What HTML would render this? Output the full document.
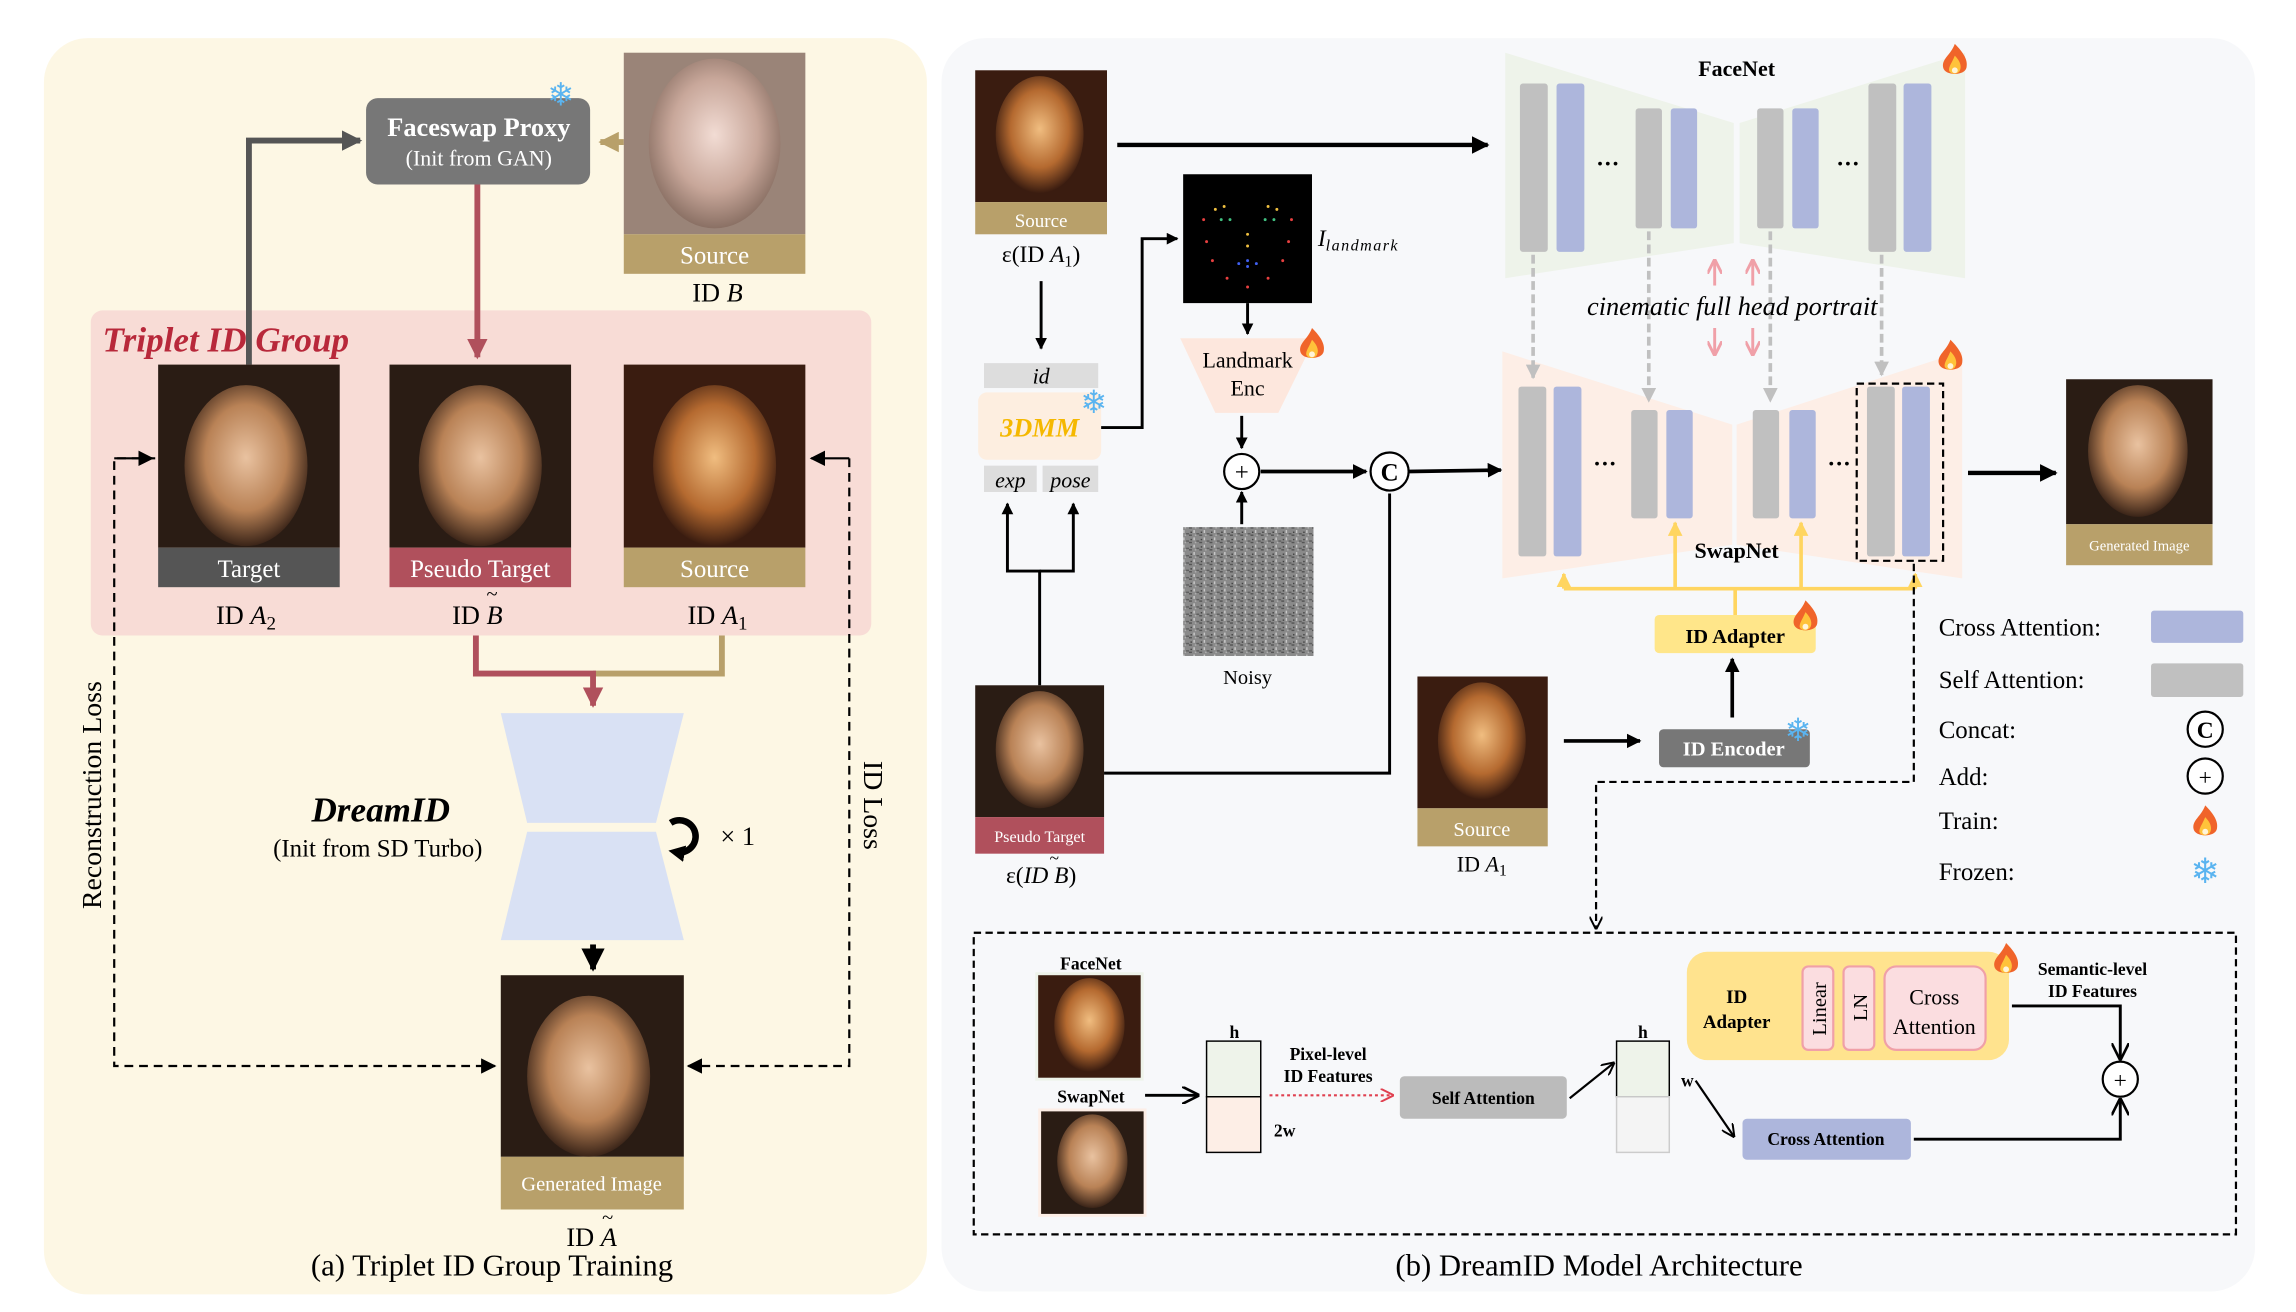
<!DOCTYPE html>
<html><head><meta charset="utf-8"><style>
html,body{margin:0;padding:0;background:#fff;}
svg{display:block;}
text{font-family:"Liberation Serif",serif;}
</style></head><body>
<svg width="2296" height="1312" viewBox="0 0 1568 896" preserveAspectRatio="none" xmlns="http://www.w3.org/2000/svg">
<defs>
<radialGradient id="skin" cx="50%" cy="45%" r="55%"><stop offset="0" stop-color="#e9c2a0"/><stop offset="0.6" stop-color="#b98256"/><stop offset="1" stop-color="#3a2418"/></radialGradient>
<radialGradient id="skin2" cx="50%" cy="45%" r="55%"><stop offset="0" stop-color="#f0bd80"/><stop offset="0.6" stop-color="#b56a30"/><stop offset="1" stop-color="#3a1c10"/></radialGradient>
<radialGradient id="skin3" cx="50%" cy="45%" r="55%"><stop offset="0" stop-color="#f2dcd4"/><stop offset="0.6" stop-color="#c8a79a"/><stop offset="1" stop-color="#8a7064"/></radialGradient>
<pattern id="noise" width="7" height="5" patternUnits="userSpaceOnUse"><rect width="7" height="5" fill="#8a8a8a"/><rect x="0" y="0" width="2" height="1" fill="#555"/><rect x="3" y="2" width="1" height="2" fill="#c8c8c8"/><rect x="5" y="4" width="2" height="1" fill="#606060"/><rect x="4" y="0" width="1" height="1" fill="#b0b0b0"/><rect x="1" y="3" width="1" height="1" fill="#444"/></pattern>
<marker id="ab" viewBox="0 0 10 10" refX="9" refY="5" markerWidth="4" markerHeight="4" orient="auto-start-reverse"><path d="M0,0L10,5L0,10z" fill="#000"/></marker>
<marker id="ag" viewBox="0 0 10 10" refX="9" refY="5" markerWidth="3.5" markerHeight="3.5" orient="auto"><path d="M0,0L10,5L0,10z" fill="#555"/></marker>
<marker id="ar" viewBox="0 0 10 10" refX="9" refY="5" markerWidth="3.5" markerHeight="3.5" orient="auto"><path d="M0,0L10,5L0,10z" fill="#b0505c"/></marker>
<marker id="au" viewBox="0 0 10 10" refX="9" refY="5" markerWidth="3.5" markerHeight="3.5" orient="auto"><path d="M0,0L10,5L0,10z" fill="#b8a06a"/></marker>
<marker id="ay" viewBox="0 0 10 10" refX="9" refY="5" markerWidth="4" markerHeight="4" orient="auto"><path d="M0,0L10,5L0,10z" fill="#ffd560"/></marker>
<marker id="agr" viewBox="0 0 10 10" refX="9" refY="5" markerWidth="4" markerHeight="4" orient="auto"><path d="M0,0L10,5L0,10z" fill="#c0c0c0"/></marker>
<marker id="ad" viewBox="0 0 10 10" refX="9" refY="5" markerWidth="7" markerHeight="7" orient="auto"><path d="M0,0L10,5L0,10z" fill="#000"/></marker>
<marker id="av" viewBox="0 0 10 10" refX="9" refY="5" markerWidth="6" markerHeight="6" orient="auto"><path d="M0,0L10,5L0,10" fill="none" stroke="#000" stroke-width="1.5"/></marker>
<marker id="ap" viewBox="0 0 10 10" refX="9" refY="5" markerWidth="5" markerHeight="5" orient="auto"><path d="M0,0L10,5L0,10" fill="none" stroke="#f0a0a8" stroke-width="2"/></marker>
<marker id="arv" viewBox="0 0 10 10" refX="9" refY="5" markerWidth="6" markerHeight="6" orient="auto"><path d="M0,0L10,5L0,10" fill="none" stroke="#e04050" stroke-width="1.5"/></marker>
<marker id="aloop" viewBox="0 0 10 10" refX="5" refY="5" markerWidth="2.5" markerHeight="2.5" orient="auto"><path d="M0,0L10,5L0,10z" fill="#000"/></marker>
<g id="fire"><path d="M0,-12 C6,-6 9,-1 8,4 C7,10 -7,10 -8,4 C-9,-2 -3,-4 0,-12z" fill="#f0642a"/><path d="M0,-4 C4,0 5,4 3,7 C1,9 -3,9 -4,6 C-4,3 -2,1 0,-4z" fill="#ffc23a"/><circle cx="0" cy="6" r="2" fill="#fff4d8"/></g>
</defs>

<!-- LEFT PANEL -->
<rect x="30" y="26" width="603" height="858" rx="30" fill="#fdf7e4"/>
<rect x="62" y="212" width="533" height="222" rx="8" fill="#f8dcd6"/>
<text x="70" y="240" font-size="24" font-weight="bold" font-style="italic" fill="#b8283a">Triplet ID Group</text>

<path d="M170,249 V96 H246" stroke="#555" stroke-width="4" fill="none" marker-end="url(#ag)"/>
<path d="M426,97 H410" stroke="#b8a06a" stroke-width="4" fill="none" marker-end="url(#au)"/>
<rect x="250" y="67" width="153" height="59" rx="8" fill="#777"/>
<text x="327" y="93" font-size="18" font-weight="bold" fill="#fff" text-anchor="middle">Faceswap Proxy</text>
<text x="327" y="113" font-size="15" fill="#fff" text-anchor="middle">(Init from GAN)</text>
<text x="383" y="72" font-size="22" fill="#5ab4f0" text-anchor="middle">❄</text>
<path d="M326,126 V244" stroke="#b0505c" stroke-width="4" fill="none" marker-end="url(#ar)"/>

<rect x="426" y="36" width="124" height="124" fill="#9a8478"/><ellipse cx="488" cy="98" rx="45" ry="58" fill="url(#skin3)"/>
<rect x="426" y="160" width="124" height="27" fill="#b8a06a"/>
<text x="488" y="180" font-size="17" fill="#fff" text-anchor="middle">Source</text>
<text x="490" y="206" font-size="18" text-anchor="middle">ID <tspan font-style="italic">B</tspan></text>

<rect x="108" y="249" width="124" height="125" fill="#2a1c14"/><ellipse cx="168" cy="318" rx="42" ry="55" fill="url(#skin)"/>
<rect x="108" y="374" width="124" height="27" fill="#555"/>
<text x="170" y="394" font-size="17" fill="#fff" text-anchor="middle">Target</text>
<rect x="266" y="249" width="124" height="125" fill="#2a1c14"/><ellipse cx="328" cy="318" rx="42" ry="55" fill="url(#skin)"/>
<rect x="266" y="374" width="124" height="27" fill="#b0505c"/>
<text x="328" y="394" font-size="17" fill="#fff" text-anchor="middle">Pseudo Target</text>
<rect x="426" y="249" width="124" height="125" fill="#3a1c10"/><ellipse cx="488" cy="318" rx="42" ry="55" fill="url(#skin2)"/>
<rect x="426" y="374" width="124" height="27" fill="#b8a06a"/>
<text x="488" y="394" font-size="17" fill="#fff" text-anchor="middle">Source</text>
<text x="168" y="426" font-size="18" text-anchor="middle">ID <tspan font-style="italic">A</tspan><tspan font-size="13" dy="4">2</tspan></text>
<text x="326" y="426" font-size="18" text-anchor="middle">ID <tspan font-style="italic">B</tspan></text>
<text x="336" y="410" font-size="14" text-anchor="middle">~</text>
<text x="490" y="426" font-size="18" text-anchor="middle">ID <tspan font-style="italic">A</tspan><tspan font-size="13" dy="4">1</tspan></text>

<path d="M493,434 V460 H405" stroke="#b8a06a" stroke-width="4" fill="none"/>
<path d="M325,434 V460 H405 V482" stroke="#b0505c" stroke-width="4" fill="none" marker-end="url(#ar)"/>
<polygon points="342,487 467,487 448,562 360,562" fill="#d9e1f4"/>
<polygon points="360,568 448,568 467,642 342,642" fill="#d9e1f4"/>
<text x="260" y="561" font-size="24" font-weight="bold" font-style="italic" text-anchor="middle">DreamID</text>
<text x="258" y="585" font-size="17" text-anchor="middle">(Init from SD Turbo)</text>
<path d="M458,562 A11,11 0 1 1 462,582" stroke="#000" stroke-width="4.5" fill="none" marker-end="url(#aloop)"/>
<text x="492" y="577" font-size="18" font-family="Liberation Sans">× 1</text>
<path d="M405,645 V662" stroke="#000" stroke-width="4" marker-end="url(#ab)"/>

<rect x="342" y="666" width="125" height="124" fill="#2a1c14"/><ellipse cx="402" cy="735" rx="42" ry="55" fill="url(#skin)"/>
<rect x="342" y="790" width="125" height="36" fill="#b8a06a"/>
<text x="404" y="813" font-size="14" fill="#fff" text-anchor="middle">Generated Image</text>
<text x="404" y="851" font-size="18" text-anchor="middle">ID <tspan font-style="italic">A</tspan></text>
<text x="415" y="836" font-size="14" text-anchor="middle">~</text>
<text x="336" y="871" font-size="21" text-anchor="middle">(a) Triplet ID Group Training</text>

<path d="M106,313 H78 V728 H338" stroke="#000" stroke-width="1.5" stroke-dasharray="6,4" fill="none" marker-end="url(#ad)"/>
<path d="M78,313 H104" stroke="#000" stroke-width="1.5" fill="none" marker-end="url(#ad)"/>
<path d="M580,313 V728 H470" stroke="#000" stroke-width="1.5" stroke-dasharray="6,4" fill="none" marker-end="url(#ad)"/>
<path d="M580,313 H554" stroke="#000" stroke-width="1.5" fill="none" marker-end="url(#ad)"/>
<text transform="translate(69,543) rotate(-90)" font-size="19" text-anchor="middle">Reconstruction Loss</text>
<text transform="translate(590,550) rotate(90)" font-size="19" text-anchor="middle">ID Loss</text>

<!-- RIGHT PANEL -->
<rect x="643" y="26" width="897" height="856" rx="30" fill="#f7f8fa"/>

<rect x="666" y="48" width="90" height="90" fill="#3a1c10"/><ellipse cx="710" cy="92" rx="30" ry="40" fill="url(#skin2)"/>
<rect x="666" y="138" width="90" height="22" fill="#b8a06a"/>
<text x="711" y="155" font-size="13" fill="#fff" text-anchor="middle">Source</text>
<text x="711" y="179" font-size="16" text-anchor="middle">ε(ID <tspan font-style="italic">A</tspan><tspan font-size="11" dy="3">1</tspan><tspan dy="-3">)</tspan></text>
<path d="M763,99 H1016" stroke="#000" stroke-width="3" marker-end="url(#ab)"/>
<path d="M711,192 V238" stroke="#000" stroke-width="2" marker-end="url(#ab)"/>

<rect x="668" y="268" width="84" height="46" rx="6" fill="#fdeee0"/>
<rect x="672" y="248" width="78" height="17" fill="#ddd"/>
<text x="711" y="262" font-size="15" font-style="italic" text-anchor="middle">id</text>
<text x="710" y="298" font-size="18" font-weight="bold" font-style="italic" fill="#f5b800" text-anchor="middle">3DMM</text>
<rect x="672" y="318" width="36" height="18" fill="#ddd"/><rect x="712" y="318" width="38" height="18" fill="#ddd"/>
<text x="690" y="333" font-size="15" font-style="italic" text-anchor="middle">exp</text>
<text x="731" y="333" font-size="15" font-style="italic" text-anchor="middle">pose</text>
<text x="747" y="282" font-size="22" fill="#5ab4f0" text-anchor="middle">❄</text>
<path d="M752,292 H780 V163 H804" stroke="#000" stroke-width="2" fill="none" marker-end="url(#ab)"/>

<rect x="808" y="119" width="88" height="88" fill="#000"/>
<g fill="#e84040"><circle cx="822" cy="150" r="1"/><circle cx="824" cy="165" r="1"/><circle cx="828" cy="178" r="1"/><circle cx="838" cy="190" r="1"/><circle cx="852" cy="196" r="1"/><circle cx="866" cy="190" r="1"/><circle cx="876" cy="178" r="1"/><circle cx="880" cy="165" r="1"/><circle cx="882" cy="150" r="1"/></g>
<g fill="#f0c040"><circle cx="830" cy="143" r="1"/><circle cx="836" cy="141" r="1"/><circle cx="866" cy="141" r="1"/><circle cx="872" cy="143" r="1"/><circle cx="852" cy="160" r="1"/><circle cx="852" cy="168" r="1"/></g>
<g fill="#40c080"><circle cx="834" cy="150" r="1"/><circle cx="840" cy="150" r="1"/><circle cx="864" cy="150" r="1"/><circle cx="870" cy="150" r="1"/></g>
<g fill="#4060f0"><circle cx="846" cy="180" r="1"/><circle cx="852" cy="182" r="1"/><circle cx="858" cy="180" r="1"/><circle cx="852" cy="178" r="1"/></g>
<text x="900" y="168" font-size="16" font-style="italic">I<tspan font-size="11" dy="3" letter-spacing="1">landmark</tspan></text>
<path d="M852,207 V228" stroke="#000" stroke-width="2" marker-end="url(#ab)"/>
<polygon points="806,231 898,231 873,282 830,282" fill="#fde7dd"/>
<text x="852" y="251" font-size="15" text-anchor="middle">Landmark</text>
<text x="852" y="270" font-size="15" text-anchor="middle">Enc</text>
<use href="#fire" transform="translate(896,236)"/>
<path d="M848,284 V306" stroke="#000" stroke-width="2" marker-end="url(#ab)"/>
<circle cx="848" cy="322" r="12" fill="#fff" stroke="#000" stroke-width="1.5"/>
<text x="848" y="328" font-size="17" text-anchor="middle" font-family="Liberation Sans">+</text>
<path d="M848,358 V336" stroke="#000" stroke-width="2" marker-end="url(#ab)"/>
<rect x="808" y="360" width="89" height="88" fill="url(#noise)"/>
<text x="852" y="467" font-size="14" text-anchor="middle">Noisy</text>
<path d="M861,322 H933" stroke="#000" stroke-width="2.5" marker-end="url(#ab)"/>
<circle cx="949" cy="322" r="13" fill="#fff" stroke="#000" stroke-width="1.5"/>
<text x="949" y="328" font-size="17" font-weight="bold" text-anchor="middle">C</text>
<path d="M962,322 L1025,321" stroke="#000" stroke-width="2.5" marker-end="url(#ab)"/>

<rect x="666" y="468" width="88" height="90" fill="#2a1c14"/><ellipse cx="710" cy="512" rx="30" ry="40" fill="url(#skin)"/>
<rect x="666" y="558" width="88" height="25" fill="#b0505c"/>
<text x="710" y="575" font-size="11" fill="#fff" text-anchor="middle">Pseudo Target</text>
<text x="711" y="603" font-size="16" text-anchor="middle">ε(<tspan font-style="italic">ID B</tspan>)</text>
<text x="720" y="590" font-size="12" text-anchor="middle">~</text>
<path d="M754,528 H949 V337" stroke="#000" stroke-width="2" fill="none"/>
<path d="M710,468 V390 H688 V344" stroke="#000" stroke-width="2" fill="none" marker-end="url(#ab)"/>
<path d="M710,390 H733 V344" stroke="#000" stroke-width="2" fill="none" marker-end="url(#ab)"/>

<!-- FaceNet -->
<polygon points="1028,36 1184,84 1184,166 1028,190" fill="#eef3ea"/>
<polygon points="1188,84 1342,36 1342,190 1188,166" fill="#eef3ea"/>
<text x="1186" y="52" font-size="15" font-weight="bold" text-anchor="middle">FaceNet</text>
<g fill="#c0c0c0"><rect x="1038" y="57" width="19" height="115" rx="2"/><rect x="1117" y="74" width="18" height="82" rx="2"/><rect x="1200" y="74" width="18" height="82" rx="2"/><rect x="1276" y="57" width="19" height="115" rx="2"/></g>
<g fill="#adb6dc"><rect x="1063" y="57" width="19" height="115" rx="2"/><rect x="1141" y="74" width="18" height="82" rx="2"/><rect x="1224" y="74" width="18" height="82" rx="2"/><rect x="1300" y="57" width="19" height="115" rx="2"/></g>
<text x="1098" y="117" font-size="16" text-anchor="middle" font-weight="bold">···</text>
<text x="1262" y="117" font-size="16" text-anchor="middle" font-weight="bold">···</text>
<use href="#fire" transform="translate(1335,42)"/>

<!-- SwapNet -->
<polygon points="1026,240 1183,290 1183,372 1026,395" fill="#fdeee6"/>
<polygon points="1186,290 1340,240 1340,395 1186,372" fill="#fdeee6"/>
<g fill="#c0c0c0"><rect x="1037" y="264" width="19" height="116" rx="2"/><rect x="1114" y="280" width="18" height="74" rx="2"/><rect x="1197" y="280" width="18" height="74" rx="2"/><rect x="1275" y="264" width="19" height="116" rx="2"/></g>
<g fill="#adb6dc"><rect x="1061" y="264" width="19" height="116" rx="2"/><rect x="1138" y="280" width="18" height="74" rx="2"/><rect x="1222" y="280" width="18" height="74" rx="2"/><rect x="1299" y="264" width="19" height="116" rx="2"/></g>
<text x="1096" y="322" font-size="16" text-anchor="middle" font-weight="bold">···</text>
<text x="1256" y="322" font-size="16" text-anchor="middle" font-weight="bold">···</text>
<rect x="1268" y="262" width="59" height="121" fill="none" stroke="#000" stroke-width="1.5" stroke-dasharray="5,3"/>
<text x="1186" y="381" font-size="15" font-weight="bold" text-anchor="middle">SwapNet</text>
<use href="#fire" transform="translate(1332,244)"/>
<g stroke="#c0c0c0" stroke-width="2.5" stroke-dasharray="6,3" fill="none">
<path d="M1047,174 V258" marker-end="url(#agr)"/><path d="M1126,158 V274" marker-end="url(#agr)"/><path d="M1209,158 V274" marker-end="url(#agr)"/><path d="M1285,174 V256" marker-end="url(#agr)"/></g>
<g stroke="#f0a0a8" stroke-width="2" fill="none">
<path d="M1171,195 V178" marker-end="url(#ap)"/><path d="M1197,195 V178" marker-end="url(#ap)"/>
<path d="M1171,224 V242" marker-end="url(#ap)"/><path d="M1197,224 V242" marker-end="url(#ap)"/></g>
<text x="1183" y="215" font-size="18" font-style="italic" text-anchor="middle">cinematic full head portrait</text>

<g stroke="#ffd560" stroke-width="2.5" fill="none">
<path d="M1068,402 H1308"/><path d="M1185,402 V420"/>
<path d="M1068,402 V392" marker-end="url(#ay)"/><path d="M1144,402 V357" marker-end="url(#ay)"/>
<path d="M1230,402 V357" marker-end="url(#ay)"/><path d="M1308,402 V392" marker-end="url(#ay)"/></g>
<rect x="1130" y="420" width="110" height="26" rx="3" fill="#ffe68a"/>
<text x="1185" y="439" font-size="14" font-weight="bold" text-anchor="middle">ID Adapter</text>
<use href="#fire" transform="translate(1233,422)"/>
<path d="M1183,490 V450" stroke="#000" stroke-width="2.5" marker-end="url(#ab)"/>
<rect x="1133" y="498" width="103" height="26" rx="3" fill="#777"/>
<text x="1184" y="516" font-size="14" font-weight="bold" fill="#fff" text-anchor="middle">ID Encoder</text>
<text x="1228" y="506" font-size="22" fill="#5ab4f0" text-anchor="middle">❄</text>
<rect x="968" y="462" width="89" height="90" fill="#3a1c10"/><ellipse cx="1012" cy="506" rx="30" ry="40" fill="url(#skin2)"/>
<rect x="968" y="552" width="89" height="26" fill="#b8a06a"/>
<text x="1012" y="571" font-size="14" fill="#fff" text-anchor="middle">Source</text>
<text x="1012" y="595" font-size="15" text-anchor="middle">ID <tspan font-style="italic">A</tspan><tspan font-size="11" dy="3">1</tspan></text>
<path d="M1068,506 H1120" stroke="#000" stroke-width="2.5" marker-end="url(#ab)"/>
<path d="M1307,385 V534 H1090 V634" stroke="#000" stroke-width="1.5" stroke-dasharray="5,3" fill="none" marker-end="url(#av)"/>

<path d="M1344,323 H1404" stroke="#000" stroke-width="3" marker-end="url(#ab)"/>
<rect x="1411" y="259" width="100" height="99" fill="#2a1c14"/><ellipse cx="1460" cy="308" rx="34" ry="45" fill="url(#skin)"/>
<rect x="1411" y="358" width="100" height="28" fill="#b8a06a"/>
<text x="1461" y="376" font-size="10" fill="#fff" text-anchor="middle">Generated Image</text>

<text x="1324" y="434" font-size="17">Cross Attention:</text><rect x="1469" y="417" width="63" height="22" rx="2" fill="#adb6dc"/>
<text x="1324" y="470" font-size="17">Self Attention:</text><rect x="1469" y="453" width="63" height="23" rx="2" fill="#c0c0c0"/>
<text x="1324" y="504" font-size="17">Concat:</text>
<circle cx="1506" cy="498" r="12" fill="#fff" stroke="#000" stroke-width="1.5"/><text x="1506" y="504" font-size="16" font-weight="bold" text-anchor="middle">C</text>
<text x="1324" y="536" font-size="17">Add:</text>
<circle cx="1506" cy="530" r="12" fill="#fff" stroke="#000" stroke-width="1.5"/><text x="1506" y="536" font-size="16" text-anchor="middle" font-family="Liberation Sans">+</text>
<text x="1324" y="566" font-size="17">Train:</text>
<use href="#fire" transform="translate(1506,562)"/>
<text x="1324" y="601" font-size="17">Frozen:</text>
<text x="1506" y="603" font-size="24" fill="#5ab4f0" text-anchor="middle">❄</text>

<!-- bottom detail -->
<rect x="665" y="637" width="862" height="206" fill="none" stroke="#000" stroke-width="1.5" stroke-dasharray="5,3"/>
<text x="745" y="662" font-size="12" font-weight="bold" text-anchor="middle">FaceNet</text>
<rect x="707" y="664" width="74" height="74" fill="#eef3ea"/>
<rect x="709" y="666" width="70" height="70" fill="#3a1c10"/><ellipse cx="744" cy="700" rx="24" ry="32" fill="url(#skin2)"/>
<text x="745" y="753" font-size="12" font-weight="bold" text-anchor="middle">SwapNet</text>
<rect x="709" y="757" width="74" height="74" fill="#fdeee6"/>
<rect x="711" y="759" width="70" height="70" fill="#2a1c14"/><ellipse cx="746" cy="793" rx="24" ry="32" fill="url(#skin)"/>
<path d="M782,748 H818" stroke="#000" stroke-width="2" marker-end="url(#av)"/>
<rect x="824" y="711" width="37" height="38" fill="#eef3ea" stroke="#000" stroke-width="1"/>
<rect x="824" y="749" width="37" height="38" fill="#fdeee6" stroke="#000" stroke-width="1"/>
<text x="843" y="709" font-size="12" font-weight="bold" text-anchor="middle">h</text>
<text x="870" y="776" font-size="12" font-weight="bold">2w</text>
<text x="907" y="724" font-size="12" font-weight="bold" text-anchor="middle">Pixel-level</text>
<text x="907" y="739" font-size="12" font-weight="bold" text-anchor="middle">ID Features</text>
<path d="M867,748 H951" stroke="#e04050" stroke-width="1.5" stroke-dasharray="2,2" marker-end="url(#arv)"/>
<rect x="956" y="735" width="114" height="29" rx="3" fill="#bbb"/>
<text x="1013" y="754" font-size="12" font-weight="bold" text-anchor="middle">Self Attention</text>
<path d="M1072,750 L1102,726" stroke="#000" stroke-width="1.5" marker-end="url(#av)"/>
<rect x="1104" y="711" width="36" height="38" fill="#eef3ea" stroke="#000" stroke-width="1"/>
<rect x="1104" y="749" width="36" height="38" fill="#f4f4f4" stroke="#ccc" stroke-width="1"/>
<text x="1122" y="709" font-size="12" font-weight="bold" text-anchor="middle">h</text>
<text x="1148" y="742" font-size="12" font-weight="bold">w</text>
<path d="M1158,738 L1184,776" stroke="#000" stroke-width="1.5" marker-end="url(#av)"/>
<rect x="1190" y="764" width="115" height="28" rx="3" fill="#adb6dc"/>
<text x="1247" y="782" font-size="12" font-weight="bold" text-anchor="middle">Cross Attention</text>
<path d="M1307,778 H1448 V751" stroke="#000" stroke-width="2" fill="none" marker-end="url(#av)"/>
<circle cx="1448" cy="737" r="12" fill="#fff" stroke="#000" stroke-width="1.5"/>
<text x="1448" y="743" font-size="16" text-anchor="middle" font-family="Liberation Sans">+</text>
<rect x="1152" y="650" width="220" height="74" rx="14" fill="#ffe38e"/>
<text x="1186" y="685" font-size="13" font-weight="bold" text-anchor="middle">ID</text>
<text x="1186" y="702" font-size="13" font-weight="bold" text-anchor="middle">Adapter</text>
<rect x="1231" y="660" width="21" height="57" rx="4" fill="#fbdde0" stroke="#f0a0a8" stroke-width="1.5"/>
<rect x="1259" y="660" width="21" height="57" rx="4" fill="#fbdde0" stroke="#f0a0a8" stroke-width="1.5"/>
<rect x="1287" y="660" width="69" height="57" rx="8" fill="#fbdde0" stroke="#f0a0a8" stroke-width="1.5"/>
<text transform="translate(1247,689) rotate(-90)" font-size="14" text-anchor="middle">Linear</text>
<text transform="translate(1275,688) rotate(-90)" font-size="14" text-anchor="middle">LN</text>
<text x="1321" y="686" font-size="15" text-anchor="middle">Cross</text>
<text x="1321" y="706" font-size="15" text-anchor="middle">Attention</text>
<use href="#fire" transform="translate(1370,656)"/>
<text x="1429" y="666" font-size="12" font-weight="bold" text-anchor="middle">Semantic-level</text>
<text x="1429" y="681" font-size="12" font-weight="bold" text-anchor="middle">ID Features</text>
<path d="M1374,687 H1448 V723" stroke="#000" stroke-width="2" fill="none" marker-end="url(#av)"/>
<text x="1092" y="871" font-size="21" text-anchor="middle">(b) DreamID Model Architecture</text>
</svg>
</body></html>
